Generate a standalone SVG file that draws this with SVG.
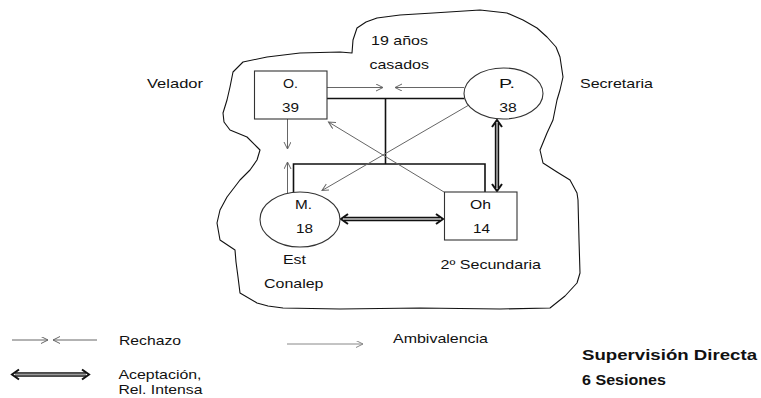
<svg xmlns="http://www.w3.org/2000/svg" width="761" height="398" viewBox="0 0 761 398">
<style>
text{font-family:"Liberation Sans",Arial,sans-serif;font-size:13.5px;fill:#111}
.b{font-weight:bold;font-size:15px}
.m{text-anchor:middle}
.node{fill:#fff;stroke:#333;stroke-width:1.1}
.thin{stroke:#666;stroke-width:1;fill:none}
.thick{stroke:#111;stroke-width:1.6;fill:none}
.dblo{stroke:#111;stroke-width:4.4;fill:none}
.dbli{stroke:#9a9a9a;stroke-width:1.8;fill:none}
.hd{stroke:#111;stroke-width:2;fill:none;stroke-linejoin:miter}
.blob{fill:none;stroke:#111;stroke-width:1.1;stroke-linejoin:round}
</style>
<defs>
<marker id="oa" markerUnits="userSpaceOnUse" markerWidth="10" markerHeight="8" refX="7" refY="3.5" orient="auto">
<path d="M0,0 L7,3.5 L0,7" fill="none" stroke="#666" stroke-width="1"/>
</marker>
<marker id="la" markerUnits="userSpaceOnUse" markerWidth="10" markerHeight="8" refX="7" refY="3.5" orient="auto">
<path d="M0,0 L7,3.5 L0,7" fill="none" stroke="#888" stroke-width="1"/>
</marker>
</defs>

<path class="blob" d="M352,53 L353,40 L357,28 L366,22 L377,18 L400,15 L433,13 L480,10 L507,13 L523,20 L537,28 L547,37 L556,47 L560,57 L563,77 L560,90 L557,100 L553,120 L547,133 L540,150 L543,163 L557,172 L570,180 L577,193 L578,200 L579,240 L580,273 L577,283 L565,296 L550,308 L500,309 L420,308 L340,309 L283,308 L268,306 L257,303 L240,293 L238,277 L236,262 L235,250 L220,240 L217,223 L220,210 L227,197 L240,180 L250,170 L257,160 L260,150 L257,147 L247,137 L230,130 L224,122 L223,113 L227,100 L230,87 L233,72 L243,62 L267,57 L300,53 L340,52 Z"/>

<g id="connectors">
<line class="thin" x1="327" y1="87.5" x2="383" y2="87.5" marker-end="url(#oa)"/>
<line class="thin" x1="464" y1="87.5" x2="395" y2="87.5" marker-end="url(#oa)"/>
<line class="thick" x1="327" y1="98.5" x2="464" y2="98.5"/>
<line class="thick" x1="385.5" y1="98.5" x2="385.5" y2="164"/>
<polyline class="thick" points="293.5,192.5 293.5,164 485,164 485,192"/>
<line class="thin" x1="287.5" y1="119" x2="287.5" y2="149" marker-end="url(#oa)"/>
<line class="thin" x1="287.5" y1="193" x2="287.5" y2="162" marker-end="url(#oa)"/>
<line class="thin" x1="471.5" y1="103.5" x2="322" y2="190.5" marker-end="url(#oa)"/>
<line class="thin" x1="444" y1="192" x2="328.5" y2="122" marker-end="url(#oa)"/>
<line class="dblo" x1="497" y1="123" x2="497" y2="188"/>
<line class="dbli" x1="497" y1="123" x2="497" y2="188"/>
<polyline class="hd" points="492,127 497,120 502,127"/>
<polyline class="hd" points="492,184 497,191 502,184"/>
<line class="dblo" x1="344" y1="219" x2="440" y2="219"/>
<line class="dbli" x1="344" y1="219" x2="440" y2="219"/>
<polyline class="hd" points="348,214 341,219 348,224"/>
<polyline class="hd" points="436,214 443,219 436,224"/>
</g>

<g id="node-O">
<rect class="node" x="254.5" y="71" width="72.5" height="48"/>
<text class="m" x="290.5" y="88" textLength="15" lengthAdjust="spacingAndGlyphs">O.</text>
<text class="m" x="290.5" y="112" textLength="17" lengthAdjust="spacingAndGlyphs">39</text>
</g>
<g id="node-P">
<ellipse class="node" cx="503.5" cy="93.5" rx="39.5" ry="25.5"/>
<text class="m" x="507" y="87.5" textLength="16" lengthAdjust="spacingAndGlyphs">P.</text>
<text class="m" x="508" y="111.5" textLength="17.5" lengthAdjust="spacingAndGlyphs">38</text>
</g>
<g id="node-M">
<ellipse class="node" cx="300" cy="219.5" rx="40" ry="27.5"/>
<text class="m" x="303.5" y="208.5" textLength="17" lengthAdjust="spacingAndGlyphs">M.</text>
<text class="m" x="304.5" y="232.5" textLength="17" lengthAdjust="spacingAndGlyphs">18</text>
</g>
<g id="node-Oh">
<rect class="node" x="444.5" y="192" width="72.5" height="48"/>
<text class="m" x="480.5" y="208.5" textLength="21" lengthAdjust="spacingAndGlyphs">Oh</text>
<text class="m" x="481.5" y="232.5" textLength="17" lengthAdjust="spacingAndGlyphs">14</text>
</g>

<g id="labels">
<text x="147" y="88" textLength="56" lengthAdjust="spacingAndGlyphs">Velador</text>
<text x="580" y="88" textLength="73" lengthAdjust="spacingAndGlyphs">Secretaria</text>
<text x="371" y="45" textLength="57" lengthAdjust="spacingAndGlyphs">19 años</text>
<text x="369.5" y="68.5" textLength="59.5" lengthAdjust="spacingAndGlyphs">casados</text>
<text x="283" y="263.5" textLength="23" lengthAdjust="spacingAndGlyphs">Est</text>
<text x="264" y="287.5" textLength="59.5" lengthAdjust="spacingAndGlyphs">Conalep</text>
<text x="440.5" y="269" textLength="100.5" lengthAdjust="spacingAndGlyphs">2º Secundaria</text>
</g>

<g id="legend">
<line class="thin" x1="12" y1="340" x2="48" y2="340" marker-end="url(#oa)"/>
<line class="thin" x1="97" y1="340" x2="53" y2="340" marker-end="url(#oa)"/>
<text x="119" y="344.5" textLength="62" lengthAdjust="spacingAndGlyphs">Rechazo</text>
<line x1="287" y1="344" x2="363" y2="344" stroke="#888" stroke-width="1" marker-end="url(#la)"/>
<text x="393" y="343" textLength="95" lengthAdjust="spacingAndGlyphs">Ambivalencia</text>
<line class="dblo" x1="15" y1="374.5" x2="86" y2="374.5"/>
<line class="dbli" x1="15" y1="374.5" x2="86" y2="374.5"/>
<polyline class="hd" points="19,369.5 12,374.5 19,379.5"/>
<polyline class="hd" points="82,369.5 89,374.5 82,379.5"/>
<text x="118.5" y="379" textLength="83" lengthAdjust="spacingAndGlyphs">Aceptación,</text>
<text x="118.5" y="394" textLength="84" lengthAdjust="spacingAndGlyphs">Rel. Intensa</text>
<text class="b" x="582" y="360" textLength="175" lengthAdjust="spacingAndGlyphs">Supervisión Directa</text>
<text class="b" x="582" y="384.5" textLength="84" lengthAdjust="spacingAndGlyphs">6 Sesiones</text>
</g>
</svg>
